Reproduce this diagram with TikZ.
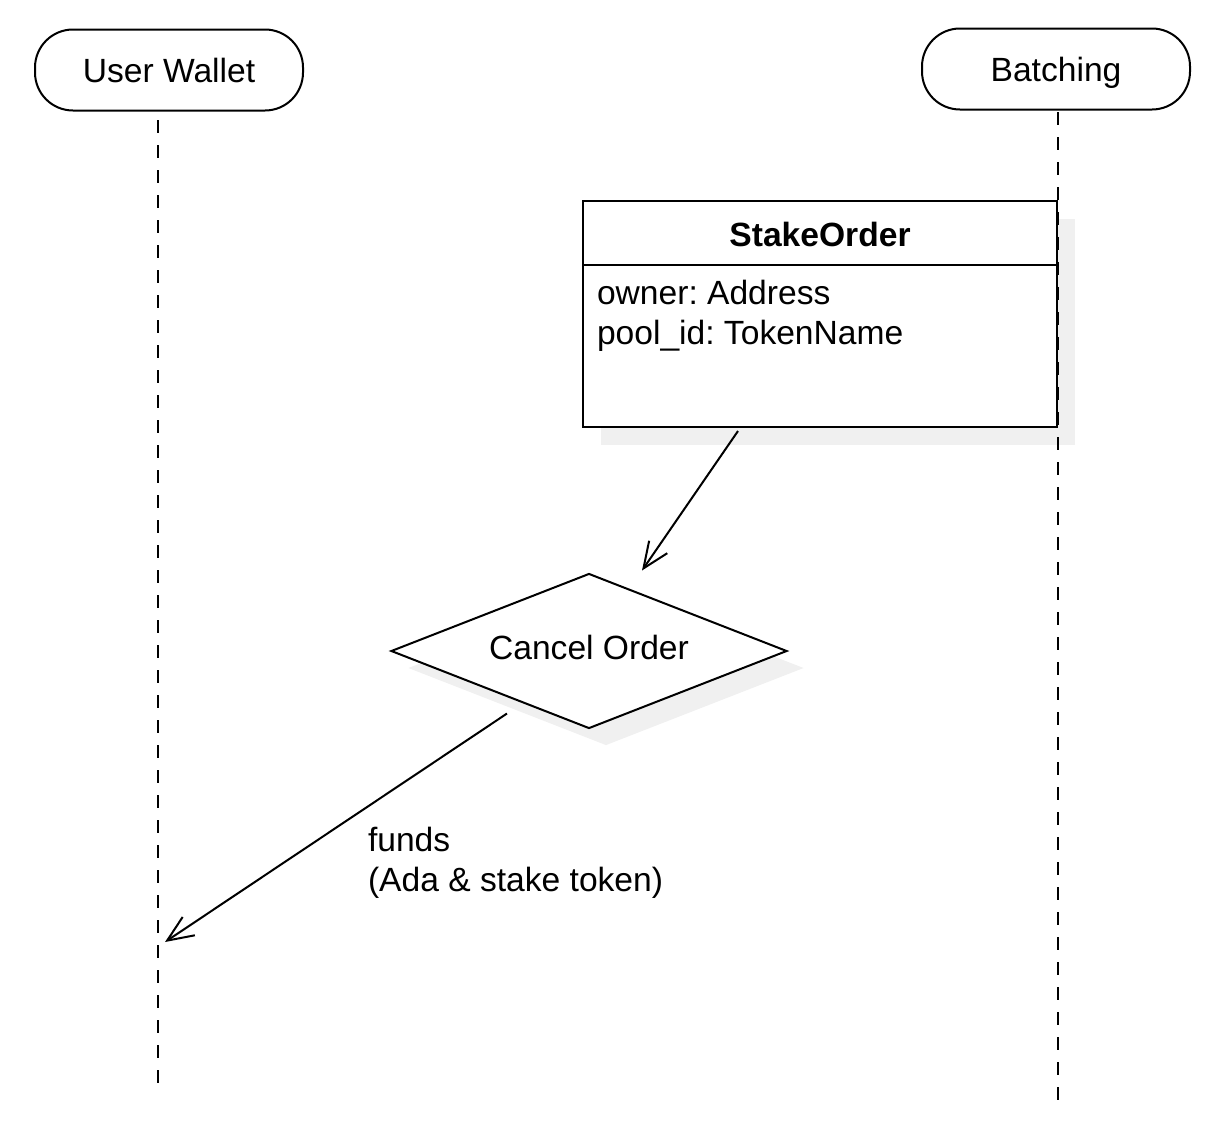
\documentclass[tikz,border=0pt]{standalone}
\usepackage{fontspec}
\setmainfont{Liberation Sans}
\usetikzlibrary{arrows.meta,shapes.geometric,shadows}
\frenchspacing

\begin{document}
\begin{tikzpicture}[x=0.5pt, y=-0.5pt, line width=1pt,
    every node/.style={font=\fontsize{16.8}{20}\selectfont},
    actor/.style={draw, rounded corners=19pt, minimum width=134pt, minimum height=40.5pt, text height=12pt, text depth=0pt},
    lifeline/.style={dash pattern=on 6.5pt off 6pt},
    flow/.style={-{Straight Barb[length=13pt,width=11pt]}},
    shade/.style={fill=white, drop shadow={shadow xshift=#1, shadow yshift=-#1, fill=black!6, opacity=1}},
    shade/.default=9pt]
        \useasboundingbox (0,0) rectangle (1224,1136);
        \node[actor] (wallet) at (169,70) {User Wallet};
        \node[actor] (batching) at (1056,69) {Batching};
        % datum of the order
        \node[draw, shade, minimum width=237pt, minimum height=113pt] (order) at (820,314) {};
        \node[font=\fontsize{16.8}{20}\selectfont\bfseries] (order-title) at (820,234) {StakeOrder};
        \draw ([yshift=-32.5pt]order.north west) -- ([yshift=-32.5pt]order.north east);
        \node[anchor=north west, align=left, inner sep=0pt] (order-fields) at ([shift={(7pt,-39.5pt)}]order.north west) {owner: Address\\pool\_id: TokenName};
        \node[diamond, draw, shade=8.5pt, aspect=2.55, inner sep=0pt, minimum width=198pt, minimum height=77.5pt, text height=12pt, text depth=4pt] (cancel) at (589,651) {Cancel Order};
        % lifelines
        \coordinate (wallet-top) at (158,120);
        \coordinate (wallet-bottom) at (158,1085);
        \coordinate (batching-top) at (1058,112);
        \coordinate (batching-bottom) at (1058,1102);
        \coordinate (refund) at (165,942);
        \draw[lifeline] (wallet-top) -- (wallet-bottom);
        \draw[lifeline] (batching-top) -- (batching-bottom);
        \draw[flow] ([shift={(-41pt,-1.5pt)}]order.south) -- ([shift={(26.5pt,1pt)}]cancel.north);
        \draw[flow] ([shift={(-41pt,8pt)}]cancel.south) -- (refund);
        \node[anchor=west, align=left, inner sep=0pt] (funds-label) at (367,863) {funds\\(Ada \& stake token)};
    \end{tikzpicture}
\end{document}
